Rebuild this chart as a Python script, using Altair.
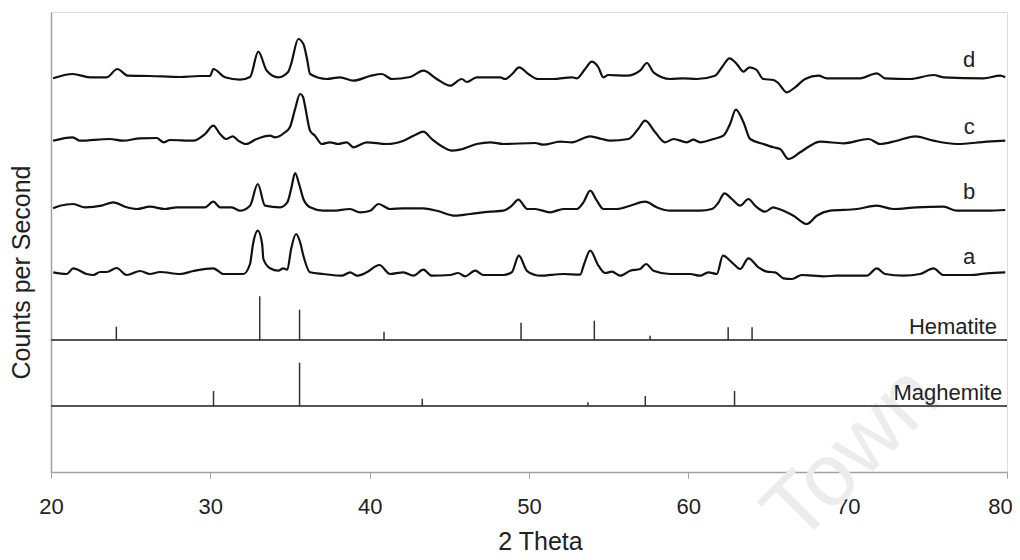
import altair as alt
import pandas as pd

# ---- diffraction traces (2 theta, counts) ----
d_theta = [20.13,21.36,22.45,23.50,24.16,24.83,26.21,28.10,29.35,29.98,30.19,30.92,31.86,32.49,33.01,33.54,34.27,34.88,35.07,35.52,35.84,36.07,36.26,37.31,38.14,38.98,40.03,40.76,41.39,42.54,43.37,44.21,45.05,45.78,46.10,46.72,48.19,48.50,48.94,49.38,49.96,50.57,51.51,52.69,53.00,53.52,53.94,54.34,54.67,54.97,56.14,56.97,57.40,57.81,58.86,59.67,60.53,61.68,62.12,62.58,63.04,63.46,63.83,64.26,64.71,65.34,65.64,66.18,66.70,67.33,68.17,68.69,70.78,71.83,72.35,73.92,75.39,76.01,78.53,79.57,79.89]
d_counts = [393.7,398,394.7,394.7,403,396.3,396,395,396,396,403,394.7,392.3,395,420.3,401.3,394.7,400,408,433,428,413,398,393,394.7,391.3,396,398,393,395,401.3,393,386.3,393,390,394.7,394.7,393,398,404.7,398,393,393,394.7,393.7,403,410.3,405,394.7,397,396.3,401.3,409,399.7,393,393.7,393,396.3,405,413.7,408,400.3,404.7,402.3,393,392,389,379.7,384.7,393,396.3,393.7,393.7,398.7,393.7,393,397,394.7,393.7,396.3,394.7]

c_theta = [20.13,21.36,21.82,23.70,24.52,25.59,26.64,27.05,27.47,28.93,29.67,30.19,30.61,30.99,31.41,31.76,32.24,32.91,33.75,34.06,34.69,35.00,35.32,35.63,35.82,35.94,36.26,36.57,36.99,37.51,38.02,38.56,38.98,39.82,41.07,42.12,42.85,43.37,43.90,44.63,45.15,45.68,46.72,47.56,48.39,50.38,50.90,51.95,52.69,53.84,54.57,55.09,56.24,56.85,57.29,57.92,58.54,59.07,59.91,60.32,60.74,61.58,62.20,62.62,62.98,63.46,63.88,64.71,65.34,65.76,66.28,67.02,67.65,68.27,69.74,71.31,72.04,73.09,74.24,75.39,76.86,78.74,79.89]
c_counts = [331.3,334.7,331.3,333,331.3,333.7,334,329.7,332,331.3,338,346.3,338,333,335.7,331.3,328,333,336.3,334.7,339.7,345,363,378,375,366.3,341.3,336.3,328,329.7,328,329.7,324.7,329.7,328,331.3,337,340.3,333,324.7,321.3,322.3,328,329.7,328,329,327.3,330.3,329.7,335.7,333,331.3,333,343,351.3,339.7,329.7,333,329.7,332.3,329.7,333,336.3,348,362.3,349.7,333,328,324.7,323,313,319.7,326.3,330.3,328.7,333,328,331.3,335.7,331.3,328,330.3,331.3]

b_theta = [20.13,20.56,21.40,22.13,23.18,23.91,24.75,25.38,26.21,27.16,27.89,28.73,29.67,30.19,30.61,31.34,31.86,32.49,32.98,33.43,34.38,34.83,35.07,35.32,35.57,35.84,36.26,37.09,37.70,38.77,39.40,40.03,40.55,41.28,42.10,43.37,44.21,45.36,46.30,47.56,48.39,48.92,49.33,49.90,50.38,51.32,52.16,53.00,53.42,53.84,54.26,54.67,55.51,56.35,57.29,58.02,58.86,60.74,61.48,61.87,62.27,62.73,63.25,63.77,64.19,64.82,65.34,65.55,65.97,66.60,67.44,68.06,68.90,70.58,71.83,72.88,74.34,76.01,76.85,78.74,79.89]
b_counts = [263.7,266.3,268,264.7,266.3,269.7,264.7,263,265.3,263,264.7,264.7,264.7,270.3,264.7,264.7,261.3,266.3,288,266.3,264.7,269.7,283,299,288,273,264.7,261.3,261.3,263,259.7,261.3,268,263,263.7,263.7,261.3,256.3,258,260.3,261.3,266.3,272.3,263,263,259.7,263,263,269.7,281.3,271.3,263,263,266.3,270.3,264.7,261.3,261.3,263,269,278.7,273,266.3,273,266.3,260.3,264.7,263.7,261.3,256.3,248,256.3,261.3,263,266.3,263,264.7,265.3,261.3,261.3,262]

a_theta = [20.14,20.99,21.40,22.24,22.66,23.08,23.50,24.12,24.75,25.59,26.21,26.84,28.10,28.93,30.19,30.82,32.07,32.49,32.68,32.98,33.25,33.33,33.75,34.27,34.58,34.83,35.07,35.38,35.63,35.84,36.26,37.09,38.25,38.77,39.19,39.82,40.61,41.28,42.12,42.74,43.37,43.90,45.05,45.55,45.99,46.62,47.14,48.39,48.92,49.36,49.86,50.38,50.70,52.16,53.21,53.46,53.84,54.36,54.78,55.20,55.72,56.35,56.97,57.35,57.81,58.86,60.11,60.74,61.26,61.79,62.17,62.73,63.25,63.77,64.40,64.93,65.45,65.97,66.50,67.12,67.85,68.48,69.32,71.20,71.83,72.35,73.50,74.55,75.39,76.01,77.69,78.74,79.89]
a_counts = [199.7,198,203.7,198,197,200,200,204,197,201,198,200,198,201,203.7,198,198,208,228,241.3,228,213,203.7,201.3,203.7,202.3,223,238,230,216.3,199.7,198,196.3,199.7,196.3,199.7,207,198,199.7,196.3,202.3,196.3,197,199,195.7,201.3,197,197,199.7,216.3,201.3,197,196.3,198,197.3,208,221.3,206.3,199,200.3,196.3,201.3,203,208,201.3,198,198,196.3,199.7,198,216.3,209.7,203,213.7,204.7,200.3,199.7,193.7,193,197,196.3,195.7,196.3,196.3,203.7,198,196.3,198,203.7,197,197,198.7,199.7]

samples = ["a", "b", "c", "d"]
sample_label_theta = 77.63
sample_label_counts = [208, 273, 338, 404.7]

# ---- reference stick patterns ----
hem_theta = [24.1, 33.1, 35.6, 40.9, 49.5, 54.1, 57.6, 62.5, 64.0]
hem_height = [13.3, 43.7, 30.3, 8.3, 17.3, 19.3, 4.3, 12.7, 12.7]
mag_theta = [30.2, 35.6, 43.3, 53.7, 57.3, 62.9]
mag_height = [15, 43.3, 7.3, 3.7, 10, 15]
pattern_names = ["Hematite", "Maghemite"]
pattern_base = [132, 66]
pattern_label_theta = [79.37, 79.70]
pattern_label_counts = [138, 72.3]

x_ticks = [20, 30, 40, 50, 60, 70, 80]
watermark = ["Town"]

FONT = "Liberation Sans"

rows = []
for name, th, ct in [("a", a_theta, a_counts), ("b", b_theta, b_counts),
                     ("c", c_theta, c_counts), ("d", d_theta, d_counts)]:
    for i, (t, v) in enumerate(zip(th, ct)):
        rows.append({"sample": name, "theta": t, "counts": v, "i": i})
curves_df = pd.DataFrame(rows)

stick_rows = []
for t, h in zip(hem_theta, hem_height):
    stick_rows.append({"pattern": "Hematite", "theta": t, "base": pattern_base[0], "top": pattern_base[0] + h})
for t, h in zip(mag_theta, mag_height):
    stick_rows.append({"pattern": "Maghemite", "theta": t, "base": pattern_base[1], "top": pattern_base[1] + h})
sticks_df = pd.DataFrame(stick_rows)

base_df = pd.DataFrame({"pattern": pattern_names, "base": pattern_base})
plabel_df = pd.DataFrame({"name": pattern_names, "theta": pattern_label_theta, "counts": pattern_label_counts})
slabel_df = pd.DataFrame({"name": samples, "theta": [sample_label_theta] * 4, "counts": sample_label_counts})
wm_df = pd.DataFrame({"t": watermark, "theta": [70.3], "counts": [17]})

xscale = alt.Scale(domain=[20, 80], nice=False, zero=False)
yscale = alt.Scale(domain=[0, 460], nice=False, zero=False)

xaxis = alt.Axis(values=x_ticks, format="d", title="2 Theta", grid=False,
                 labelFont=FONT, labelFontSize=22, labelColor="#222222",
                 labelBaseline="alphabetic", labelPadding=35.5, labelFlush=False,
                 labelOverlap=False,
                 labelOffset={"condition": {"test": "datum.value == 80", "value": -7}, "value": 0},
                 tickSize=6, tickColor="#a0a0a0", tickWidth=1,
                 domainColor="#a0a0a0", domainWidth=1.5,
                 titleFont=FONT, titleFontSize=25, titleFontWeight="normal",
                 titleColor="#222222", titleBaseline="alphabetic",
                 titleX=489, titleY=77, titleAlign="center")
yaxis = alt.Axis(title="Counts per Second", labels=False, ticks=False, grid=False,
                 domainColor="#a0a0a0", domainWidth=1.5,
                 titleFont=FONT, titleFontSize=25, titleFontWeight="normal",
                 titleColor="#222222", titleBaseline="alphabetic",
                 titleAngle=270, titleX=-21.5, titleY=260, titleAlign="center")

wm = alt.Chart(wm_df).mark_text(font=FONT, fontSize=88, color="#ececec", angle=315,
                                align="center", baseline="middle").encode(
    x=alt.X("theta:Q", scale=xscale, axis=xaxis),
    y=alt.Y("counts:Q", scale=yscale, axis=yaxis),
    text="t:N")

lines = alt.Chart(curves_df).mark_line(color="#111111", strokeWidth=2.2,
                                       interpolate="monotone").encode(
    x=alt.X("theta:Q", scale=xscale),
    y=alt.Y("counts:Q", scale=yscale),
    detail="sample:N",
    order="i:Q")

baselines = alt.Chart(base_df).mark_rule(color="#555555", strokeWidth=2).encode(
    y=alt.Y("base:Q", scale=yscale))

sticks = alt.Chart(sticks_df).mark_rule(color="#333333", strokeWidth=1.5).encode(
    x=alt.X("theta:Q", scale=xscale),
    y=alt.Y("base:Q", scale=yscale),
    y2="top:Q")

plabels = alt.Chart(plabel_df).mark_text(font=FONT, fontSize=22, color="#222222",
                                         align="right", baseline="alphabetic").encode(
    x=alt.X("theta:Q", scale=xscale),
    y=alt.Y("counts:Q", scale=yscale),
    text="name:N")

slabels = alt.Chart(slabel_df).mark_text(font=FONT, fontSize=22, color="#222222",
                                         align="center", baseline="alphabetic").encode(
    x=alt.X("theta:Q", scale=xscale),
    y=alt.Y("counts:Q", scale=yscale),
    text="name:N")

chart = alt.layer(wm, baselines, sticks, lines, plabels, slabels).properties(
    width=956, height=460,
    padding={"left": 43, "top": 4, "right": 5, "bottom": 84},
    autosize=alt.AutoSizeParams(type="none"),
).configure_view(stroke="#b4b4b4", strokeWidth=1.5).configure(background="white")

chart.save("out.html", embed_options={"renderer": "svg", "actions": False})
